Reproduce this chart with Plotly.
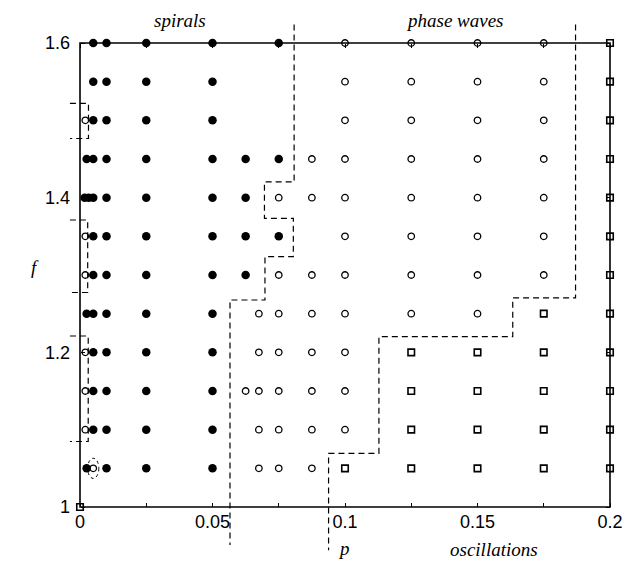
import plotly.graph_objects as go

# ---------------- data ----------------
# spirals (filled circles): p values and f values, row by row
spiral_p = [0.005, 0.01, 0.025, 0.05, 0.075,
            0.005, 0.01, 0.025, 0.05,
            0.005, 0.01, 0.025, 0.05,
            0.0025, 0.005, 0.01, 0.025, 0.05, 0.0625, 0.075,
            0.00175, 0.0033, 0.005, 0.01, 0.025, 0.05, 0.0625,
            0.005, 0.01, 0.025, 0.05, 0.0625, 0.075,
            0.005, 0.01, 0.025, 0.05, 0.0625,
            0.0025, 0.005, 0.01, 0.025, 0.05,
            0.005, 0.01, 0.025, 0.05,
            0.005, 0.01, 0.025, 0.05,
            0.005, 0.01, 0.025, 0.05,
            0.0025, 0.01, 0.025, 0.05]
spiral_f = [1.6] * 5 + [1.55] * 4 + [1.5] * 4 + [1.45] * 7 + [1.4] * 7 + \
           [1.35] * 6 + [1.3] * 5 + [1.25] * 5 + [1.2] * 4 + [1.15] * 4 + \
           [1.1] * 4 + [1.05] * 4

# phase waves (open circles)
wave_p = [0.1, 0.125, 0.15, 0.175,
          0.1, 0.125, 0.15, 0.175,
          0.002, 0.1, 0.125, 0.15, 0.175,
          0.0875, 0.1, 0.125, 0.15, 0.175,
          0.075, 0.0875, 0.1, 0.125, 0.15, 0.175,
          0.002, 0.1, 0.125, 0.15, 0.175,
          0.002, 0.075, 0.0875, 0.1, 0.125, 0.15, 0.175,
          0.0675, 0.075, 0.0875, 0.1, 0.125, 0.15,
          0.002, 0.0675, 0.075, 0.0875, 0.1,
          0.002, 0.0625, 0.0675, 0.075, 0.0875, 0.1,
          0.002, 0.0675, 0.075, 0.0875, 0.1,
          0.005, 0.0675, 0.075, 0.0875]
wave_f = [1.6] * 4 + [1.55] * 4 + [1.5] * 5 + [1.45] * 5 + [1.4] * 6 + \
         [1.35] * 5 + [1.3] * 7 + [1.25] * 6 + [1.2] * 5 + [1.15] * 6 + \
         [1.1] * 5 + [1.05] * 4

# oscillations (open squares)
osc_p = [0.2, 0.2, 0.2, 0.2, 0.2, 0.2, 0.2,
         0.175, 0.2,
         0.125, 0.15, 0.175, 0.2,
         0.125, 0.15, 0.175, 0.2,
         0.125, 0.15, 0.175, 0.2,
         0.1, 0.125, 0.15, 0.175, 0.2,
         0.0]
osc_f = [1.6, 1.55, 1.5, 1.45, 1.4, 1.35, 1.3,
         1.25, 1.25,
         1.2, 1.2, 1.2, 1.2,
         1.15, 1.15, 1.15, 1.15,
         1.1, 1.1, 1.1, 1.1,
         1.05, 1.05, 1.05, 1.05, 1.05,
         1.0]

# region boundaries (dashed)
spiral_edge_p = [0.0808, 0.0808, 0.0696, 0.0696, 0.0805, 0.0805, 0.0698, 0.0698, 0.0566, 0.0566]
spiral_edge_f = [1.624, 1.4203, 1.4203, 1.3733, 1.3733, 1.3237, 1.3237, 1.2677, 1.2677, 0.951]
osc_edge_p = [0.187, 0.187, 0.1633, 0.1633, 0.1128, 0.1128, 0.0938, 0.0938]
osc_edge_f = [1.624, 1.2703, 1.2703, 1.2202, 1.2202, 1.0694, 1.0694, 0.944]
box1_p = [-0.0038, 0.0032, 0.0032, -0.0038]
box1_f = [1.522, 1.522, 1.4765, 1.4765]
box2_p = [-0.0038, 0.0029, 0.0029, -0.0038]
box2_f = [1.3711, 1.3711, 1.2774, 1.2774]
box3_p = [-0.0038, 0.0031, 0.0031, -0.0038]
box3_f = [1.2211, 1.2211, 1.0847, 1.0847]

x_tickvals = [0, 0.025, 0.05, 0.075, 0.1, 0.125, 0.15, 0.175, 0.2]
x_ticktext = ["0", "", "0.05", "", "0.1", "", "0.15", "", "0.2"]
y_tickvals = [1.0, 1.2, 1.4, 1.6]
y_ticktext = ["1", "1.2", "1.4", "1.6"]

# ---------------- layout geometry ----------------
# the page body adds an 8px offset; positions below are in figure pixels
OFF = 8
W, H = 641, 565
ML, MR, MT, MB = 46, 5, 2, 3
PW, PH = W - ML - MR, H - MT - MB
X0PX, X1PX = 80 - OFF, 610 - OFF      # pixel of p=0, p=0.2
Y1PX, Y0PX = 43 - OFF, 507 - OFF      # pixel of f=1.6, f=1.0
kx = (X1PX - X0PX) / 0.2
ky = (Y0PX - Y1PX) / 0.6
xr = [0 - (X0PX - ML) / kx, 0.2 + (ML + PW - X1PX) / kx]
yr = [1.0 - (MT + PH - Y0PX) / ky, 1.6 + (Y1PX - MT) / ky]


def xfrac(v):
    return (v - xr[0]) / (xr[1] - xr[0])


def yfrac(v):
    return (v - yr[0]) / (yr[1] - yr[0])


def px_x(px):
    return (px - OFF - ML) / PW


def px_y(py):
    return 1 - (py - OFF - MT) / PH


fig = go.Figure()

dash_line = dict(color="black", width=1.2, dash="6px,4px")
for bp, bf in [(spiral_edge_p, spiral_edge_f), (osc_edge_p, osc_edge_f),
               (box1_p, box1_f), (box2_p, box2_f), (box3_p, box3_f)]:
    fig.add_trace(go.Scatter(x=bp, y=bf, mode="lines", line=dash_line,
                             hoverinfo="skip", showlegend=False))

fig.add_trace(go.Scatter(x=spiral_p, y=spiral_f, mode="markers", name="spirals",
                         marker=dict(symbol="circle", size=8.5, color="black"),
                         showlegend=False))
fig.add_trace(go.Scatter(x=wave_p, y=wave_f, mode="markers", name="phase waves",
                         marker=dict(symbol="circle-open", size=6.5, color="black",
                                     line=dict(width=1.3)),
                         showlegend=False))
fig.add_trace(go.Scatter(x=osc_p, y=osc_f, mode="markers", name="oscillations",
                         marker=dict(symbol="square-open", size=6.5, color="black",
                                     line=dict(width=1.6)),
                         showlegend=False))
# dummy trace for mirrored tick axes
fig.add_trace(go.Scatter(x=[None], y=[None], xaxis="x2", yaxis="y2",
                         showlegend=False, hoverinfo="skip"))

# frame
fig.add_shape(type="rect", xref="x", yref="y", x0=0, x1=0.2, y0=1.0, y1=1.6,
              line=dict(color="black", width=1.6), layer="below")
# dashed ellipse around the point at (0.005, 1.05)
fig.add_shape(type="circle", xref="x", yref="y",
              x0=0.005 - 0.0021, x1=0.005 + 0.0021, y0=1.05 - 0.013, y1=1.05 + 0.013,
              line=dict(color="black", width=1, dash="3px,3px"))

tickfont = dict(family="Liberation Sans, Arial, sans-serif", size=18, color="black")
common = dict(showgrid=False, zeroline=False, showline=False, ticks="inside",
              ticklen=4, tickwidth=1, tickcolor="black", automargin=False)

fig.update_layout(
    width=W, height=H,
    margin=dict(l=ML, r=MR, t=MT, b=MB, pad=0),
    plot_bgcolor="white", paper_bgcolor="white",
    xaxis=dict(range=xr, anchor="free", position=yfrac(1.0), side="bottom",
               tickmode="array", tickvals=x_tickvals, ticktext=x_ticktext,
               tickfont=tickfont, ticklabelstandoff=2, **common),
    yaxis=dict(range=yr, anchor="free", position=xfrac(0.0), side="left",
               tickmode="array", tickvals=y_tickvals, ticktext=y_ticktext,
               tickfont=tickfont, ticklabelstandoff=10, **common),
    xaxis2=dict(range=xr, overlaying="x", anchor="free", position=yfrac(1.6),
                side="top", tickmode="array", tickvals=x_tickvals,
                showticklabels=False, **common),
    yaxis2=dict(range=yr, overlaying="y", anchor="free", position=xfrac(0.2),
                side="right", tickmode="array", tickvals=y_tickvals,
                showticklabels=False, **common),
)

serif = dict(family="Liberation Serif, Times New Roman, serif", size=19, color="black")
labels = [("<i>spirals</i>", 179.5, 20.5), ("<i>phase waves</i>", 455, 20.5),
          ("<i>oscillations</i>", 494, 549), ("<i>p</i>", 344, 548),
          ("<i>f</i>", 35, 268)]
for txt, lx, ly in labels:
    fig.add_annotation(text=txt, x=px_x(lx), y=px_y(ly), xref="paper", yref="paper",
                       xanchor="center", yanchor="middle", showarrow=False,
                       borderpad=0, font=serif)

fig.write_html("out.html")
